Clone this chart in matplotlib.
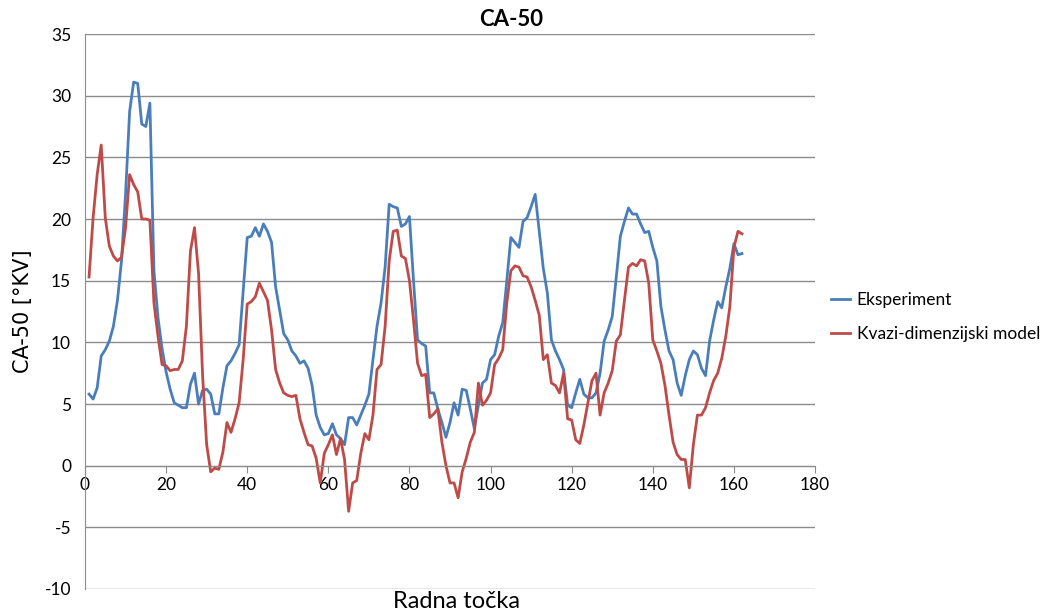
import numpy as np
import matplotlib.pyplot as plt

# CA-50 per operating point
radna_tocka = np.arange(1, 163)

eksperiment = [
    5.8, 5.4, 6.3, 8.9, 9.4, 10.1, 11.3, 13.4, 16.6, 22.0,
    28.7, 31.1, 31.0, 27.7, 27.5, 29.4, 15.8, 12.0, 9.5, 7.6,
    6.2, 5.1, 4.9, 4.7, 4.7, 6.6, 7.5, 5.0, 6.1, 6.2,
    5.8, 4.2, 4.2, 6.3, 8.1, 8.5, 9.1, 9.8, 14.2, 18.5,
    18.6, 19.3, 18.6, 19.6, 19.0, 18.1, 14.5, 12.6, 10.7, 10.2,
    9.3, 8.9, 8.3, 8.5, 7.9, 6.5, 4.1, 3.1, 2.5, 2.6,
    3.4, 2.5, 2.2, 1.7, 3.9, 3.9, 3.3, 4.1, 4.9, 5.8,
    8.6, 11.3, 13.2, 16.1, 21.2, 21.0, 20.9, 19.4, 19.6, 20.2,
    15.0, 10.2, 9.9, 9.7, 5.9, 5.9, 4.6, 3.5, 2.3, 3.5,
    5.1, 4.1, 6.2, 6.1, 4.6, 3.0, 4.9, 6.7, 7.0, 8.6,
    9.0, 10.5, 11.6, 15.0, 18.5, 18.1, 17.7, 19.8, 20.1, 21.0,
    22.0, 19.0, 16.0, 14.0, 10.2, 9.3, 8.6, 7.8, 4.9, 4.7,
    5.9, 7.0, 5.8, 5.5, 5.5, 5.9, 7.5, 10.1, 11.0, 12.1,
    15.3, 18.6, 19.8, 20.9, 20.4, 20.4, 19.6, 18.9, 19.0, 17.7,
    16.6, 12.9, 11.0, 9.3, 8.6, 6.7, 5.7, 7.3, 8.6, 9.3,
    9.0, 7.9, 7.3, 10.1, 11.8, 13.3, 12.8, 14.5, 16.0, 18.0,
    17.1, 17.2,
]

model = [
    15.3, 20.1, 23.6, 26.0, 20.1, 17.8, 17.0, 16.6, 16.9, 19.3,
    23.6, 22.8, 22.2, 20.0, 20.0, 19.9, 13.2, 10.5, 8.2, 8.1,
    7.7, 7.8, 7.8, 8.5, 11.3, 17.4, 19.3, 15.6, 7.3, 1.7,
    -0.5, -0.2, -0.3, 1.1, 3.5, 2.7, 3.8, 5.1, 8.6, 13.1,
    13.3, 13.7, 14.8, 14.1, 13.4, 11.0, 7.8, 6.7, 5.9, 5.7,
    5.6, 5.7, 3.8, 2.7, 1.7, 1.6, 0.6, -1.4, 1.0, 1.7,
    2.5, 0.9, 2.2, 0.5, -3.7, -1.4, -1.2, 1.0, 2.6, 2.1,
    4.1, 7.8, 8.2, 11.3, 16.6, 19.0, 19.1, 17.0, 16.8, 15.0,
    11.8, 8.3, 7.3, 7.4, 3.9, 4.2, 4.6, 1.9, 0.0, -1.4,
    -1.4, -2.6, -0.5, 0.6, 1.9, 2.7, 6.7, 4.9, 5.3, 5.9,
    8.2, 8.7, 9.4, 13.2, 15.8, 16.2, 16.1, 15.4, 15.3, 14.5,
    13.4, 12.2, 8.6, 9.0, 6.7, 6.5, 5.9, 7.5, 3.8, 3.7,
    2.1, 1.8, 3.3, 5.1, 6.9, 7.5, 4.1, 5.9, 6.7, 7.7,
    10.1, 10.6, 13.4, 16.1, 16.4, 16.2, 16.7, 16.6, 14.8, 10.2,
    9.3, 8.3, 6.5, 4.1, 1.9, 0.9, 0.5, 0.5, -1.8, 1.7,
    4.1, 4.1, 4.7, 5.9, 6.9, 7.5, 8.7, 10.5, 12.9, 17.7,
    19.0, 18.8,
]

plt.rcParams['font.family'] = ['Lato', 'DejaVu Sans']
plt.rcParams['axes.unicode_minus'] = False

fig = plt.figure(figsize=(10.48, 6.12), dpi=100, facecolor='w')
ax = fig.add_axes([0.0811, 0.0376, 0.6966, 0.9068])

ax.plot(radna_tocka, eksperiment, color='#4A7EBB', lw=2.0, label='Eksperiment')
ax.plot(radna_tocka, model, color='#BE4B48', lw=2.0, label='Kvazi-dimenzijski model')

ax.set_xlim(0, 180)
ax.set_ylim(-10, 35)
ax.set_xticks(np.arange(0, 181, 20))
ax.set_yticks(np.arange(-10, 36, 5))

# excel style: horizontal grid, x axis crossing at zero
ax.yaxis.grid(True, color='#8c8c8c', lw=1)
ax.set_axisbelow(True)
for s in ['top', 'right']:
    ax.spines[s].set_visible(False)
ax.spines['bottom'].set_position(('data', 0))
ax.spines['bottom'].set_color('#8c8c8c')
ax.spines['left'].set_color('#8c8c8c')
ax.tick_params(axis='x', length=5, color='#8c8c8c', labelsize=12.5, pad=3)
ax.tick_params(axis='y', length=0, labelsize=12.5, pad=10)

ax.set_ylabel('CA-50 [°KV]', family='DejaVu Sans', fontsize=15, labelpad=8)
fig.text(0.436, 0.0, 'Radna točka', ha='center', va='bottom', fontsize=17)
fig.text(0.4876, 0.968, 'CA-50', ha='center', va='center', fontsize=16, fontweight='bold')

ax.legend(loc='center left', bbox_to_anchor=(1.0, 0.49), frameon=False,
          handlelength=1.1, handletextpad=0.4, labelspacing=1.0, fontsize=12.5)

fig.savefig('out.png', dpi=100)
